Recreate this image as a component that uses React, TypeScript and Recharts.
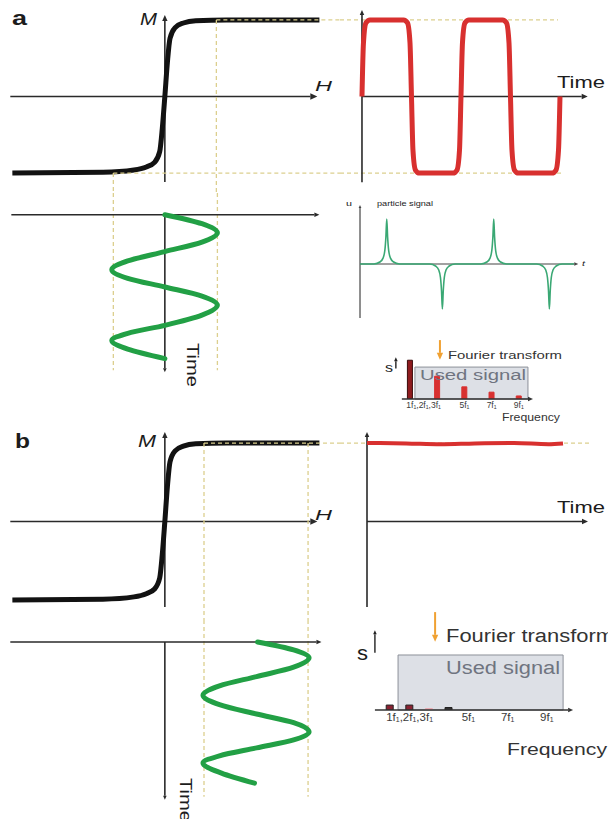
import React from 'react'
import { LineChart, Line, XAxis, YAxis, ReferenceLine, ReferenceArea, BarChart, Bar, Cell } from 'recharts'

// magnetisation curve M(H), same in a and b
const mhH = [-1.48, -0.6, -0.3, -0.18, -0.1, -0.05, -0.025, 0, 0.025, 0.05, 0.1, 0.18, 0.3, 0.6, 1.5]
const mhM = [-1, -0.99, -0.96, -0.92, -0.86, -0.72, -0.42, 0, 0.45, 0.76, 0.9, 0.96, 0.99, 1, 1]

// a: particle magnetisation over time (red)
const sqT = [0, 0.015, 0.04, 0.08, 0.42, 0.46, 0.485, 0.5, 0.515, 0.54, 0.58, 0.92, 0.96, 0.985, 1, 1.015, 1.04, 1.08, 1.42, 1.46, 1.485, 1.5, 1.515, 1.54, 1.58, 1.92, 1.96, 1.985, 2]
const sqM = [0, 0.7, 0.96, 1, 1, 0.96, 0.7, 0, -0.7, -0.96, -1, -1, -0.96, -0.7, 0, 0.7, 0.96, 1, 1, 0.96, 0.7, 0, -0.7, -0.96, -1, -1, -0.96, -0.7, 0]

// b: saturated, nearly flat
const flatT = [0, 0.4, 0.75, 1.1, 1.5, 1.85, 2]
const flatM = [1, 0.995, 0.985, 0.995, 1, 0.985, 0.995]

// drive field H over time (green), a and b
const tauA = [0, 0.125, 0.25, 0.38, 0.51, 0.64, 0.76, 0.88, 1.0, 1.125, 1.25, 1.39, 1.53, 1.64, 1.74, 1.86, 1.99]
const hA = [0, 0.36, 0.51, 0.36, 0, -0.36, -0.515, -0.36, 0, 0.36, 0.51, 0.36, 0, -0.36, -0.515, -0.36, 0]
const tauB = [0, 0.11, 0.22, 0.35, 0.48, 0.61, 0.74, 0.87, 1.0, 1.12, 1.25, 1.36, 1.47, 1.58, 1.68, 1.82, 1.96]
const hB = [0.9, 1.25, 1.4, 1.25, 0.89, 0.53, 0.37, 0.53, 0.89, 1.25, 1.4, 1.25, 0.89, 0.53, 0.37, 0.55, 0.87]

// a: particle signal
const psT = [0, 0.13, 0.19, 0.215, 0.232, 0.242, 0.25, 0.258, 0.268, 0.285, 0.31, 0.37,
  0.65, 0.71, 0.735, 0.752, 0.762, 0.77, 0.778, 0.788, 0.805, 0.83, 0.89,
  1.13, 1.19, 1.215, 1.232, 1.242, 1.25, 1.258, 1.268, 1.285, 1.31, 1.37,
  1.65, 1.71, 1.735, 1.752, 1.762, 1.77, 1.778, 1.788, 1.805, 1.83, 1.89, 2.0]
const psU = [0, 0, 0.05, 0.13, 0.3, 0.6, 1, 0.6, 0.3, 0.13, 0.05, 0,
  0, -0.05, -0.13, -0.3, -0.6, -1, -0.6, -0.3, -0.13, -0.05, 0,
  0, 0.05, 0.13, 0.3, 0.6, 1, 0.6, 0.3, 0.13, 0.05, 0,
  0, -0.05, -0.13, -0.3, -0.6, -1, -0.6, -0.3, -0.13, -0.05, 0, 0]

// spectra (harmonic number, amplitude)
const specAN = [1, 3, 5, 7, 9]
const specAS = [1.02, 0.6, 0.32, 0.18, 0.08]
const specBN = [1, 2, 3, 4]
const specBS = [0.09, 0.09, 0.025, 0.045]
const harmTicks = [2, 5, 7, 9]
const harmLabels = ['1f\u2081,2f\u2081,3f\u2081', '5f\u2081', '7f\u2081', '9f\u2081']

const mhData = mhH.map((h, i) => ({ h, m: mhM[i] }))
const sqData = sqT.map((t, i) => ({ t, m: sqM[i] }))
const flatData = flatT.map((t, i) => ({ t, m: flatM[i] }))
const sinA = tauA.map((tau, i) => ({ tau, h: hA[i] }))
const sinB = tauB.map((tau, i) => ({ tau, h: hB[i] }))
const psData = psT.map((t, i) => ({ t, u: psU[i] }))
const specA = specAN.map((n, i) => ({ n, s: specAS[i] }))
const specB = specBN.map((n, i) => ({ n, s: specBS[i] }))

const ZERO = { top: 0, right: 0, bottom: 0, left: 0 }
const AX = '#2a2a2a'
const DASH = '#dccf8e'
const GREEN = '#22a045'
const RED = '#d8302f'

const arrow = (size: number, color = AX, w = 1.6) => (p: any) => {
  const { x1, y1, x2, y2 } = p
  const a = Math.atan2(y2 - y1, x2 - x1)
  const bx = x2 - size * Math.cos(a)
  const by = y2 - size * Math.sin(a)
  const nx = -Math.sin(a) * size * 0.45
  const ny = Math.cos(a) * size * 0.45
  return (
    <g>
      <line x1={x1} y1={y1} x2={bx} y2={by} stroke={color} strokeWidth={w} />
      <polygon points={`${x2},${y2} ${bx + nx},${by + ny} ${bx - nx},${by - ny}`} fill={color} />
    </g>
  )
}

const dashLine = (key: string, x1: number, y1: number, x2: number, y2: number) => (
  <ReferenceLine key={key} segment={[{ x: x1, y: y1 }, { x: x2, y: y2 }]} stroke={DASH} strokeWidth={1.3}
    strokeDasharray="4 3" ifOverflow="visible" />
)

const Box = ({ l, t, children }: any) => (
  <div style={{ position: 'absolute', left: l, top: t }}>{children}</div>
)

function MhChart({ height, yDom, mAxis, dashes }: any) {
  return (
    <LineChart width={340} height={height} margin={ZERO}>
      <XAxis type="number" dataKey="h" domain={[-1.6, 1.7]} allowDataOverflow hide />
      <YAxis type="number" domain={yDom} allowDataOverflow hide />
      <ReferenceLine segment={[{ x: -1.5, y: 0 }, { x: 1.48, y: 0 }]} shape={arrow(7)} ifOverflow="visible" />
      <ReferenceLine segment={[{ x: 0, y: mAxis[0] }, { x: 0, y: mAxis[1] }]} shape={arrow(6)} ifOverflow="visible" />
      <Line data={mhData} dataKey="m" type="monotone" stroke="#121212" strokeWidth={5} dot={false}
        activeDot={false} isAnimationActive={false} />
      {dashes.map((d: number[], i: number) => dashLine('d' + i, d[0], d[1], d[2], d[3]))}
    </LineChart>
  )
}

function TimeChart({ height, xDom, yDom, data, tEnd, mAxis, dashes, width = 5 }: any) {
  return (
    <LineChart width={268} height={height} margin={ZERO}>
      <XAxis type="number" dataKey="t" domain={xDom} allowDataOverflow hide />
      <YAxis type="number" domain={yDom} allowDataOverflow hide />
      {dashes.map((d: number[], i: number) => dashLine('d' + i, d[0], d[1], d[2], d[3]))}
      <ReferenceLine segment={[{ x: 0, y: 0 }, { x: tEnd, y: 0 }]} shape={arrow(6)} ifOverflow="visible" />
      <ReferenceLine segment={[{ x: 0, y: mAxis[0] }, { x: 0, y: mAxis[1] }]} shape={arrow(5)} ifOverflow="visible" />
      <Line data={data} dataKey="m" type="monotone" stroke={RED} strokeWidth={width} dot={false}
        activeDot={false} strokeLinejoin="round" isAnimationActive={false} />
    </LineChart>
  )
}

// vertical layout: the time axis runs downwards
function SineChart({ height, tauDom, data, dashX, hAxis, tauEnd }: any) {
  return (
    <LineChart layout="vertical" width={340} height={height} margin={ZERO}>
      <XAxis type="number" domain={[-1.6, 1.7]} allowDataOverflow hide />
      <YAxis type="number" dataKey="tau" domain={tauDom} allowDataOverflow hide />
      {dashX.map((x: number, i: number) => dashLine('v' + i, x, tauDom[0], x, 2.15))}
      <ReferenceLine segment={[{ x: hAxis[0], y: 0 }, { x: hAxis[1], y: 0 }]} shape={arrow(5)} ifOverflow="visible" />
      <ReferenceLine segment={[{ x: 0, y: 0 }, { x: 0, y: tauEnd }]} shape={arrow(4)} ifOverflow="visible" />
      <Line data={data} dataKey="h" type="monotone" stroke={GREEN} strokeWidth={5} dot={false}
        activeDot={false} strokeLinecap="round" isAnimationActive={false} />
    </LineChart>
  )
}

function Spectrum({ w, h, axH, xDom, yDom, data, barSize, box, axis, sArrow, fArrow, tickSize, colors }: any) {
  return (
    <BarChart width={w} height={h} data={data} margin={ZERO} barSize={barSize}>
      <XAxis type="number" dataKey="n" domain={xDom} allowDataOverflow height={axH} ticks={harmTicks}
        interval={0} axisLine={false} tickLine={false} tickSize={0} tickMargin={3}
        tickFormatter={(v: number) => harmLabels[harmTicks.indexOf(v)]}
        tick={{ fontSize: tickSize, fill: '#3a3a3a', fontFamily: 'Liberation Sans, Arial, sans-serif' }} />
      <YAxis type="number" domain={yDom} allowDataOverflow hide />
      <ReferenceArea x1={box[0]} x2={box[1]} y1={0} y2={box[2]} fill="#dde0e6" fillOpacity={1}
        stroke="#8c9099" strokeWidth={1} ifOverflow="visible" />
      <Bar dataKey="s" isAnimationActive={false} strokeWidth={1}>
        {data.map((_: any, i: number) => <Cell key={i} fill={colors[i][0]} stroke={colors[i][1]} />)}
      </Bar>
      <ReferenceLine segment={[{ x: axis[0], y: 0 }, { x: axis[1], y: 0 }]} shape={arrow(5, '#333', 1.4)} ifOverflow="visible" />
      <ReferenceLine segment={[{ x: sArrow[0], y: sArrow[1] }, { x: sArrow[0], y: sArrow[2] }]} shape={arrow(4, '#222', 1.4)} ifOverflow="visible" />
      <ReferenceLine segment={[{ x: fArrow[0], y: fArrow[1] }, { x: fArrow[0], y: fArrow[2] }]} shape={arrow(7, '#f0a132', 2)} ifOverflow="visible" />
    </BarChart>
  )
}

const T = ({ x, y, s, w, b, i, fill = '#1c1c1c', rot, children }: any) => (
  <text x={x} y={y} fontSize={s} textLength={w} lengthAdjust="spacingAndGlyphs"
    fontWeight={b ? 700 : 400} fontStyle={i ? 'italic' : 'normal'} fill={fill}
    transform={rot ? `rotate(${rot} ${x} ${y})` : undefined}>{children}</text>
)

export default function App() {
  return (
    <div style={{ position: 'absolute', left: 0, top: 0, width: 608, height: 819, overflow: 'hidden', background: '#fff' }}>
      {/* panel a */}
      <Box l={0} t={0}>
        <MhChart height={193} yDom={[-1.26, 1.26]} mAxis={[-1.116, 1.064]}
          dashes={[[0.5, 1, 0.5, -1.26], [-0.5, -1, -0.5, -1.26], [0.5, 1, 1.7, 1], [-0.5, -1, 1.7, -1]]} />
      </Box>
      <Box l={340} t={0}>
        <TimeChart height={193} xDom={[-0.222, 2.485]} yDom={[-1.26, 1.26]} data={sqData} tEnd={2.28}
          mAxis={[-1.12, 1.13]} dashes={[[-0.222, 1, 1.98, 1], [-0.222, -1, 2.03, -1]]} />
      </Box>
      <Box l={0} t={193}>
        <SineChart height={188} tauDom={[-0.3, 2.3]} data={sinA} dashX={[-0.5, 0.51]} hAxis={[-1.49, 1.5]} tauEnd={2.18} />
      </Box>
      <Box l={340} t={195}>
        <LineChart width={268} height={130} margin={ZERO}>
          <XAxis type="number" dataKey="t" domain={[-0.187, 2.318]} allowDataOverflow hide />
          <YAxis type="number" domain={[-1.356, 1.533]} allowDataOverflow hide />
          <ReferenceLine segment={[{ x: 0, y: 0 }, { x: 2.04, y: 0 }]} shape={arrow(4, '#444', 1.2)} ifOverflow="visible" />
          <ReferenceLine segment={[{ x: 0, y: -1.2 }, { x: 0, y: 1.31 }]} shape={arrow(3, '#444', 1.2)} ifOverflow="visible" />
          <Line data={psData} dataKey="u" type="monotone" stroke="#3aa874" strokeWidth={1.6} dot={false}
            activeDot={false} isAnimationActive={false} />
        </LineChart>
      </Box>
      <Box l={376} t={338}>
        <Spectrum w={174} h={75} axH={14} xDom={[-1.5, 11.29]} yDom={[0, 1.605]} data={specA} barSize={5}
          box={[1.36, 9.67, 0.84]} axis={[0.4, 10.04]} sArrow={[-0.04, 0.8, 1.1]} fArrow={[3.2, 1.55, 1.03]} tickSize={8.5}
          colors={[['#8e1c1f', '#3a0a0a'], [RED, RED], [RED, RED], [RED, RED], [RED, RED]]} />
      </Box>

      {/* panel b */}
      <Box l={0} t={422}>
        <MhChart height={198} yDom={[-1.255, 1.268]} mAxis={[-1.09, 1.14]}
          dashes={[[0.38, 1, 0.38, -1.255], [1.39, 1, 1.39, -1.255], [0.38, 1, 1.7, 1]]} />
      </Box>
      <Box l={340} t={422}>
        <TimeChart height={198} xDom={[-0.2755, 2.459]} yDom={[-1.255, 1.268]} data={flatData} tEnd={2.255}
          mAxis={[-1.09, 1.14]} dashes={[[-0.2755, 1, 2.28, 1]]} width={4} />
      </Box>
      <Box l={0} t={620}>
        <SineChart height={199} tauDom={[-0.3056, 2.458]} data={sinB} dashX={[0.38, 1.39]} hAxis={[-1.5, 1.52]} tauEnd={2.19} />
      </Box>
      <Box l={360} t={605}>
        <Spectrum w={248} h={125} axH={20} xDom={[-0.531, 12.12]} yDom={[0, 1.909]} data={specB} barSize={7}
          box={[1.41, 9.83, 1.0]} axis={[0.23, 10.34]} sArrow={[0.23, 1.04, 1.45]} fArrow={[3.3, 1.78, 1.24]} tickSize={11.5}
          colors={[['#8a2232', '#222'], ['#8a2232', '#222'], ['#eaa8b0', '#eaa8b0'], ['#333', '#222']]} />
      </Box>

      <svg width={608} height={819} style={{ position: 'absolute', left: 0, top: 0, pointerEvents: 'none' }}
        fontFamily="Liberation Sans, Arial, sans-serif">
        <T x={12} y={25} s={20} w={15} b>a</T>
        <T x={140} y={25} s={16} w={17} i>M</T>
        <T x={315} y={91} s={15} w={17} i>H</T>
        <T x={557} y={88} s={17} w={48}>Time</T>
        <T x={187} y={343} s={17} w={44} rot={90}>Time</T>
        <T x={346} y={206} s={7} w={6}>u</T>
        <T x={377} y={206} s={7} w={56}>particle signal</T>
        <T x={582} y={266} s={8} w={3} i>t</T>
        <T x={385} y={372} s={13} w={8}>s</T>
        <T x={448} y={359} s={11} w={114} fill="#333">Fourier transform</T>
        <T x={420} y={380} s={14} w={106} fill="#6f7480">Used signal</T>
        <T x={502} y={421} s={10} w={58} fill="#333">Frequency</T>

        <T x={15} y={448} s={20} w={15} b>b</T>
        <T x={138} y={447} s={16} w={18} i>M</T>
        <T x={315} y={520} s={15} w={17} i>H</T>
        <T x={557} y={513} s={17} w={48}>Time</T>
        <T x={180} y={778} s={17} w={44} rot={90}>Time</T>
        <T x={357} y={660} s={20} w={11}>s</T>
        <T x={446} y={642} s={18} w={168} fill="#333">Fourier transform</T>
        <T x={446} y={674} s={18} w={114} fill="#6f7480">Used signal</T>
        <T x={507} y={755} s={16} w={100} fill="#333">Frequency</T>
      </svg>
    </div>
  )
}
